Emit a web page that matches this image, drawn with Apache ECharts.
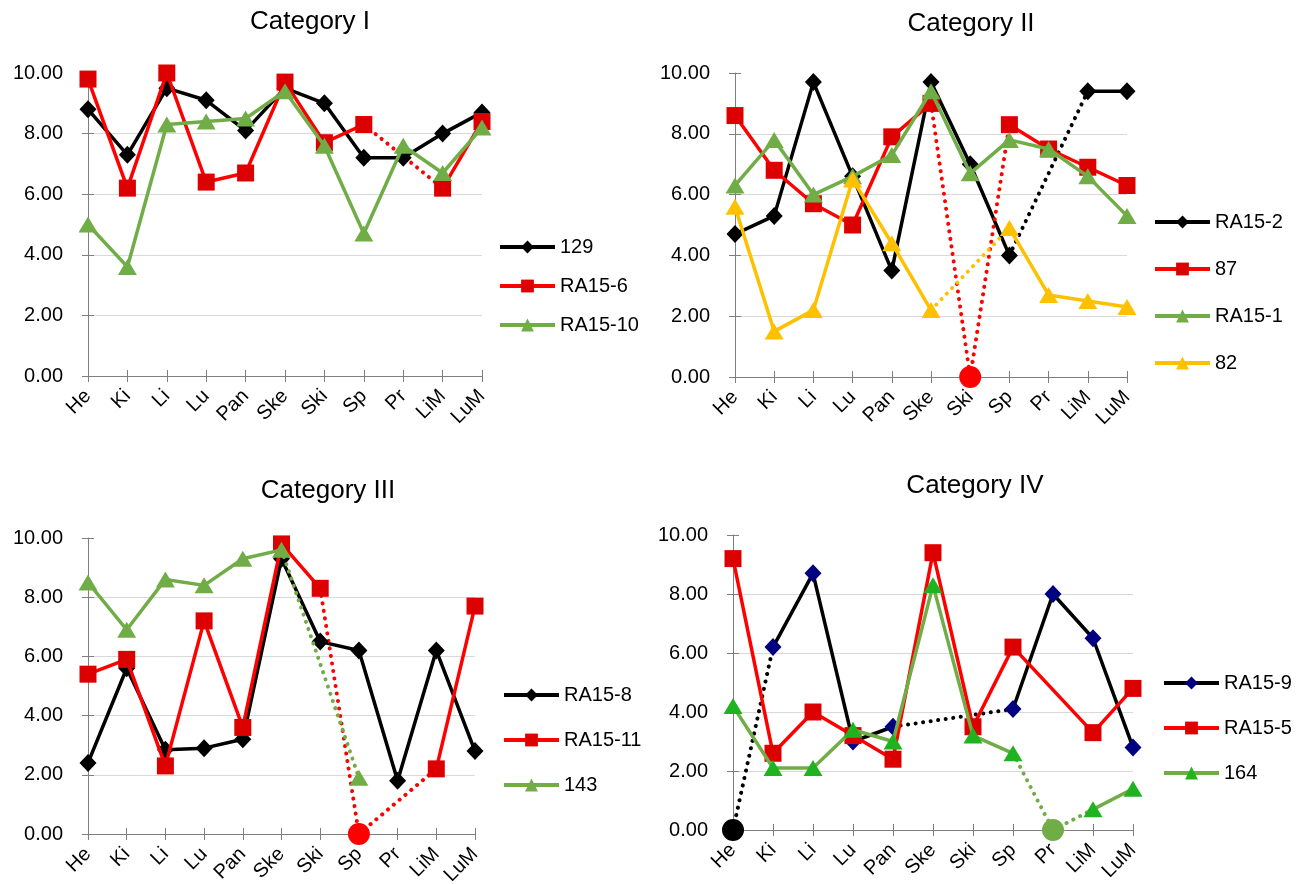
<!DOCTYPE html>
<html>
<head>
<meta charset="utf-8">
<script src="https://cdn.jsdelivr.net/npm/echarts@6/dist/echarts.min.js"></script>
<style>
  html, body { margin: 0; padding: 0; background: #ffffff; }
  #chart { width: 1300px; height: 884px; }
</style>
</head>
<body>
<div id="chart"></div>
<script>
// Sample sites along the x axis
const categories = ['He', 'Ki', 'Li', 'Lu', 'Pan', 'Ske', 'Ski', 'Sp', 'Pr', 'LiM', 'LuM'];
const yTicks = [0, 2, 4, 6, 8, 10];

// Scores per site; null = not measured, 0 = recorded as zero (circle marker)
// Category I
const s129     = [8.8, 7.3, 9.5, 9.1, 8.1, 9.5, 9.0, 7.2, 7.2, 8.0, 8.7];
const sRA15_6  = [9.8, 6.2, 10.0, 6.4, 6.7, 9.7, 7.7, 8.3, null, 6.2, 8.4];
const sRA15_10 = [5.0, 3.6, 8.3, 8.4, 8.5, 9.4, 7.6, 4.7, 7.6, 6.7, 8.2];
// Category II
const sRA15_2  = [4.7, 5.3, 9.7, 6.6, 3.5, 9.7, 7.0, 4.0, null, 9.4, 9.4];
const s87      = [8.6, 6.8, 5.7, 5.0, 7.9, 9.0, 0, 8.3, 7.5, 6.9, 6.3];
const sRA15_1  = [6.3, 7.8, 6.0, 6.6, 7.3, 9.4, 6.7, 7.8, 7.5, 6.6, 5.3];
const s82      = [5.6, 1.5, 2.2, 6.5, 4.4, 2.2, null, 4.9, 2.7, 2.5, 2.3];
// Category III
const sRA15_8  = [2.4, 5.6, 2.85, 2.9, 3.2, 9.3, 6.5, 6.2, 1.8, 6.2, 2.8];
const sRA15_11 = [5.4, 5.9, 2.3, 7.2, 3.6, 9.8, 8.3, 0, null, 2.2, 7.7];
const s143     = [8.5, 6.9, 8.6, 8.4, 9.3, 9.6, null, 1.9, null, null, null];
// Category IV
const sRA15_9  = [0, 6.2, 8.7, 3.0, 3.5, null, null, 4.1, 8.0, 6.5, 2.8];
const sRA15_5  = [9.2, 2.6, 4.0, 3.2, 2.4, 9.4, 3.5, 6.2, null, 3.3, 4.8];
const s164     = [4.2, 2.1, 2.1, 3.4, 3.0, 8.3, 3.2, 2.6, 0, 0.7, 1.4];

const FONT = '"Liberation Sans", Arial, sans-serif';
const AXIS_COLOR = '#7f7f7f';
const GRID_COLOR = '#d9d9d9';

const STYLES = {
  black:  { line: '#000000', mark: '#000000', symbol: 'diamond',  size: [17, 18], zero: '#000000' },
  red:    { line: '#ff0000', mark: '#dd0000', symbol: 'rect',     size: 17,       zero: '#ff0000' },
  green:  { line: '#70ad47', mark: '#70ad47', symbol: 'triangle', size: [19, 16], zero: '#70ad47' },
  yellow: { line: '#ffc000', mark: '#ffc000', symbol: 'triangle', size: [19, 16], zero: '#ffc000' },
  navy:   { line: '#000000', mark: '#000080', symbol: 'diamond',  size: [17, 18], zero: '#000000' },
  lime:   { line: '#70ad47', mark: '#1fb31f', symbol: 'triangle', size: [19, 16], zero: '#70ad47' }
};

// Layout of the four panels
const panels = [
  {
    title: 'Category I', titleX: 310, titleY: 22,
    grid: { left: 88, top: 73, width: 394, height: 303 },
    legend: { left: 498, top: 237, gap: 19 },
    series: [
      { name: '129', values: s129, style: 'black' },
      { name: 'RA15-6', values: sRA15_6, style: 'red' },
      { name: 'RA15-10', values: sRA15_10, style: 'green' }
    ]
  },
  {
    title: 'Category II', titleX: 971, titleY: 24,
    grid: { left: 735, top: 73, width: 392, height: 304 },
    legend: { left: 1153, top: 212, gap: 27 },
    series: [
      { name: 'RA15-2', values: sRA15_2, style: 'black' },
      { name: '87', values: s87, style: 'red' },
      { name: 'RA15-1', values: sRA15_1, style: 'green' },
      { name: '82', values: s82, style: 'yellow' }
    ]
  },
  {
    title: 'Category III', titleX: 328, titleY: 491,
    grid: { left: 88, top: 538, width: 387, height: 296 },
    legend: { left: 502, top: 685, gap: 25 },
    series: [
      { name: 'RA15-8', values: sRA15_8, style: 'black' },
      { name: 'RA15-11', values: sRA15_11, style: 'red' },
      { name: '143', values: s143, style: 'green' }
    ]
  },
  {
    title: 'Category IV', titleX: 975, titleY: 486,
    grid: { left: 733, top: 535, width: 400, height: 295 },
    legend: { left: 1162, top: 673, gap: 25 },
    series: [
      { name: 'RA15-9', values: sRA15_9, style: 'navy' },
      { name: 'RA15-5', values: sRA15_5, style: 'red', solidBridge: true },
      { name: '164', values: s164, style: 'lime' }
    ]
  }
];

const option = {
  animation: false,
  backgroundColor: '#ffffff',
  textStyle: { fontFamily: FONT },
  grid: [], xAxis: [], yAxis: [], legend: [], series: [], graphic: []
};

panels.forEach((p, k) => {
  option.grid.push(Object.assign({ outerBoundsMode: 'none', containLabel: false }, p.grid));

  // x axis with labels, plus a twin carrying the inward half of the cross ticks
  option.xAxis.push({
    gridIndex: k, type: 'category', data: categories, boundaryGap: false, position: 'bottom',
    axisLine: { show: true, onZero: false, lineStyle: { color: AXIS_COLOR, width: 1 } },
    axisTick: { show: true, inside: false, length: 6, lineStyle: { color: AXIS_COLOR } },
    axisLabel: { show: true, interval: 0, rotate: 45, margin: 17, fontSize: 20, color: '#000000', fontFamily: FONT },
    splitLine: { show: false }
  });
  option.xAxis.push({
    gridIndex: k, type: 'category', data: categories, boundaryGap: false, position: 'bottom',
    axisLine: { show: false, onZero: false },
    axisTick: { show: true, inside: true, length: 6, lineStyle: { color: AXIS_COLOR } },
    axisLabel: { show: false }, splitLine: { show: false }
  });

  option.yAxis.push({
    gridIndex: k, type: 'value', min: yTicks[0], max: yTicks[yTicks.length - 1], interval: 2, position: 'left',
    axisLine: { show: true, lineStyle: { color: AXIS_COLOR, width: 1 } },
    axisTick: { show: true, inside: false, length: 6, lineStyle: { color: AXIS_COLOR } },
    axisLabel: { show: true, margin: 25, fontSize: 20, color: '#000000', fontFamily: FONT,
                 formatter: v => v.toFixed(2) },
    splitLine: { show: true, lineStyle: { width: 1,
      color: yTicks.map((t, i) => (i === 0 || i === yTicks.length - 1) ? 'rgba(0,0,0,0)' : GRID_COLOR) } }
  });
  option.yAxis.push({
    gridIndex: k, type: 'value', min: yTicks[0], max: yTicks[yTicks.length - 1], interval: 2, position: 'left',
    axisLine: { show: false },
    axisTick: { show: true, inside: true, length: 6, lineStyle: { color: AXIS_COLOR } },
    axisLabel: { show: false }, splitLine: { show: false }
  });

  option.graphic.push({
    type: 'text', x: p.titleX, y: p.titleY,
    style: { text: p.title, fill: '#000000', font: '26px ' + FONT, align: 'center', verticalAlign: 'middle' }
  });

  option.legend.push({
    orient: 'vertical', left: p.legend.left, top: p.legend.top, itemGap: p.legend.gap,
    itemWidth: 55, itemHeight: 16, padding: 0,
    lineStyle: { width: 4 },
    textStyle: { fontSize: 20, color: '#000000', fontFamily: FONT, lineHeight: 20 },
    data: p.series.map(s => s.name),
    selectedMode: false
  });

  p.series.forEach((s, j) => {
    const st = STYLES[s.style];
    const base = { xAxisIndex: 2 * k, yAxisIndex: 2 * k, z: 2 + j, silent: true };
    const v = s.values;

    // connected measurements
    option.series.push(Object.assign({}, base, {
      type: 'line', name: s.name,
      data: v.map(x => (x === 0 ? null : x)),
      connectNulls: !!s.solidBridge,
      symbol: st.symbol, symbolSize: st.size, showSymbol: true, showAllSymbol: true,
      itemStyle: { color: st.mark, borderWidth: 0, opacity: 1 },
      lineStyle: { color: st.line, width: 3.5 },
      emphasis: { disabled: true }
    }));

    // dotted links across gaps and to zero readings
    const plotted = v.map((x, i) => (x === null ? -1 : i)).filter(i => i >= 0);
    for (let n = 0; n + 1 < plotted.length; n++) {
      const a = plotted[n], b = plotted[n + 1];
      const adjacent = (b === a + 1);
      const touchesZero = v[a] === 0 || v[b] === 0;
      if ((adjacent || s.solidBridge) && !touchesZero) continue;
      option.series.push(Object.assign({}, base, {
        type: 'line', name: s.name + ' link ' + n,
        data: v.map((x, i) => (i === a || i === b ? x : null)),
        connectNulls: true, symbol: 'none', z: 1 + j,
        lineStyle: { color: st.line, width: 4, type: [0.1, 7.5], cap: 'round' },
        emphasis: { disabled: true }
      }));
    }

    // zero readings
    const zeros = v.map((x, i) => (x === 0 ? [i, 0] : null)).filter(d => d);
    if (zeros.length) {
      option.series.push(Object.assign({}, base, {
        type: 'scatter', name: s.name + ' zero', data: zeros,
        symbol: 'circle', symbolSize: 22, z: 10,
        itemStyle: { color: st.zero, opacity: 1 },
        emphasis: { disabled: true }
      }));
    }
  });
});

const chart = echarts.init(document.getElementById('chart'), null, { renderer: 'canvas' });
chart.setOption(option);
</script>
</body>
</html>
